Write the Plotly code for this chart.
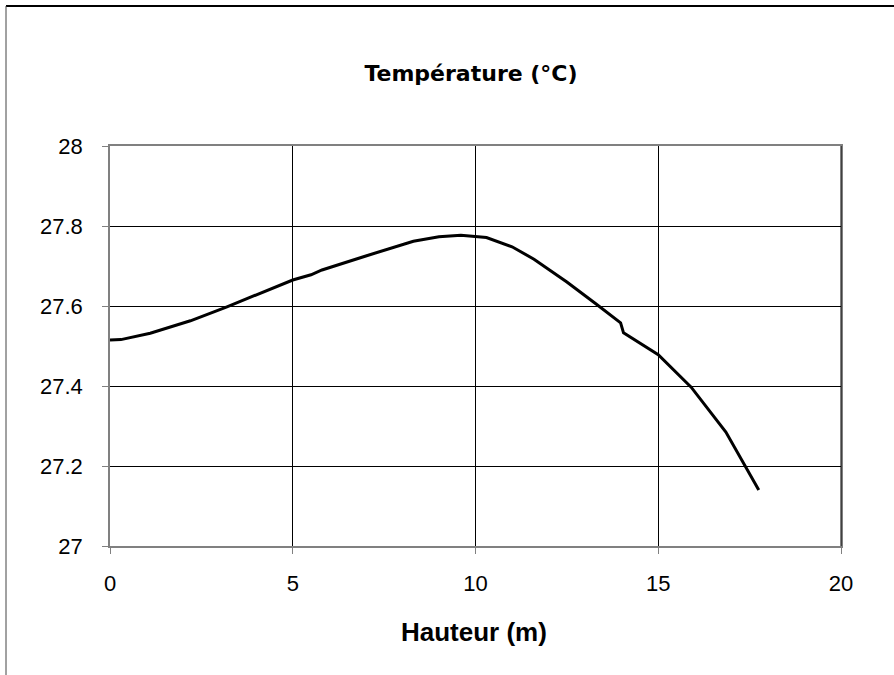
import plotly.graph_objects as go

hauteur = [0.0, 0.3, 1.1, 2.2, 3.2, 4.1, 5.0, 5.5, 5.8, 7.0, 8.3, 9.0, 9.6,
           10.3, 11.0, 11.6, 12.5, 13.3, 13.97, 14.05, 15.0, 15.9, 16.85, 17.75]
temperature = [27.515, 27.516, 27.532, 27.563, 27.598, 27.632, 27.665, 27.678,
               27.69, 27.725, 27.762, 27.773, 27.777, 27.771, 27.748, 27.717,
               27.66, 27.605, 27.558, 27.533, 27.478, 27.397, 27.285, 27.14]

x_ticks = [0, 5, 10, 15, 20]
y_ticks = [27, 27.2, 27.4, 27.6, 27.8, 28]
y_labels = ["27", "27.2", "27.4", "27.6", "27.8", "28"]

title_text = "Température (°C)"
xlabel_text = "Hauteur (m)"

FONT = "Liberation Sans, Arial, sans-serif"
TITLE_FONT = "DejaVu Sans, Liberation Sans, sans-serif"

fig = go.Figure()
fig.add_trace(go.Scatter(x=hauteur, y=temperature, mode="lines",
                         line=dict(color="black", width=3), showlegend=False,
                         hoverinfo="x+y"))

fig.update_layout(
    width=894, height=675,
    margin=dict(l=110, r=53, t=146, b=129),
    paper_bgcolor="white", plot_bgcolor="white",
    font=dict(family=FONT, size=22, color="black"),
    title=dict(text="<b>" + title_text + "</b>", x=(471 - 110) / 731, xref="paper",
               xanchor="center", y=1 - 73 / 675, yref="container", yanchor="middle",
               font=dict(family=TITLE_FONT, size=22, color="black")),
    xaxis=dict(range=[0, 20], tickvals=x_ticks, showgrid=True, gridcolor="black",
               gridwidth=1, zeroline=False, showline=True, linecolor="#808080",
               linewidth=1.5, mirror=True, ticks="outside", ticklen=6,
               tickcolor="#808080", ticklabelstandoff=11,
               tickfont=dict(family=FONT, size=22, color="black")),
    yaxis=dict(range=[27, 28], tickvals=y_ticks, ticktext=y_labels, showgrid=True,
               gridcolor="black", gridwidth=1, zeroline=False, showline=True,
               linecolor="#808080", linewidth=1.5, mirror=True, ticks="outside",
               ticklen=6, tickcolor="#808080", ticklabelstandoff=15,
               tickfont=dict(family=FONT, size=22, color="black")),
    annotations=[dict(text="<b>" + xlabel_text + "</b>", xref="paper", yref="paper",
                      x=(474 - 110) / 731, y=(546 - 632) / 400, xanchor="center",
                      yanchor="middle", showarrow=False,
                      font=dict(family=FONT, size=26, color="black"))],
    shapes=[
        dict(type="line", xref="paper", yref="paper",
             x0=(6 - 110) / 731, x1=(894 - 110) / 731,
             y0=(546 - 6) / 400, y1=(546 - 6) / 400,
             line=dict(color="black", width=2)),
        dict(type="line", xref="paper", yref="paper",
             x0=(6 - 110) / 731, x1=(6 - 110) / 731,
             y0=(546 - 6) / 400, y1=(546 - 675) / 400,
             line=dict(color="#444444", width=1)),
        dict(type="line", xref="paper", yref="paper", x0=1, x1=1, y0=0, y1=1,
             line=dict(color="black", width=1)),
    ],
)

fig.write_html("out.html")
